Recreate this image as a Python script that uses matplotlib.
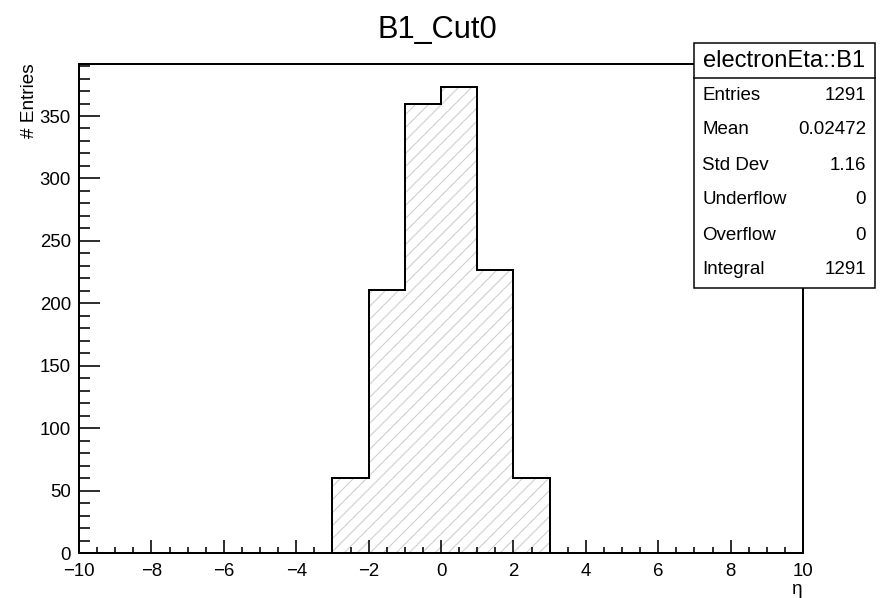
import matplotlib
matplotlib.use("Agg")
import matplotlib.pyplot as plt
from matplotlib.patches import Rectangle
from matplotlib.lines import Line2D
from matplotlib.ticker import MultipleLocator

# Histogram of electron eta, 20 bins of width 1 over [-10, 10]
bin_edges = list(range(-10, 11))
counts = [0, 0, 0, 0, 0, 0, 0,
          60, 211, 360, 373, 227, 60,
          0, 0, 0, 0, 0, 0, 0]

title = "B1_Cut0"
stats_title = "electronEta::B1"
stats_labels = ["Entries", "Mean", "Std Dev", "Underflow", "Overflow", "Integral"]
stats_values = ["1291", "0.02472", "1.16", "0", "0", "1291"]

W, H = 880, 598
DPI = 78
plt.rcParams["font.family"] = ["Liberation Sans", "DejaVu Sans"]
plt.rcParams["hatch.linewidth"] = 1.0

fig = plt.figure(figsize=(W / DPI, H / DPI), dpi=DPI)


def fx(px):
    return px / W


def fy(py):
    return 1 - py / H


def pt(px):
    return px * 72 / DPI


ax_l, ax_r, ax_t, ax_b = 79, 803, 64, 553
ax = fig.add_axes([fx(ax_l), fy(ax_b), fx(ax_r - ax_l), (ax_b - ax_t) / H])

ax.stairs(counts, bin_edges, fill=True, facecolor="none", edgecolor="#cfcfcf",
          hatch="//", linewidth=0, zorder=1)
ax.stairs(counts, bin_edges, fill=False, edgecolor="black", linewidth=pt(2.0),
          zorder=2)

ax.set_xlim(-10, 10)
ax.set_ylim(0, max(counts) * 1.05)

ax.xaxis.set_major_locator(MultipleLocator(2))
ax.xaxis.set_minor_locator(MultipleLocator(0.5))
ax.yaxis.set_major_locator(MultipleLocator(50))
ax.yaxis.set_minor_locator(MultipleLocator(10))

ax.tick_params(axis="both", which="both", direction="in", top=False, right=False,
               width=pt(1.6), colors="black", labelsize=pt(18.6))
ax.tick_params(axis="x", which="major", length=pt(13), pad=pt(10))
ax.tick_params(axis="x", which="minor", length=pt(6.5))
ax.tick_params(axis="y", which="major", length=pt(21), pad=pt(8))
ax.tick_params(axis="y", which="minor", length=pt(11))

for s in ax.spines.values():
    s.set_linewidth(pt(2.0))

# axis titles, ROOT-style aligned to the axis ends
fig.text(fx(803), fy(590), "η", ha="right", va="center", fontsize=pt(19))
fig.text(fx(30), fy(63), "# Entries", ha="center", va="top", rotation=90,
         fontsize=pt(19))

fig.text(fx(437), fy(38), title, ha="center", va="baseline", fontsize=pt(30.8))

# statistics box
bx_l, bx_r, bx_t, bx_b = 694, 875, 43, 288
fig.patches.append(Rectangle((fx(bx_l), fy(bx_b)), fx(bx_r - bx_l), (bx_b - bx_t) / H,
                             transform=fig.transFigure, facecolor="white",
                             edgecolor="black", linewidth=pt(1.5), zorder=5))
fig.lines.append(Line2D([fx(bx_l), fx(bx_r)], [fy(78), fy(78)],
                        transform=fig.transFigure, color="black",
                        linewidth=pt(1.5), zorder=6))
fig.text(fx((bx_l + bx_r) / 2), fy(61), stats_title, ha="center", va="center",
         fontsize=pt(23.8), zorder=7)
row_y = [95, 130, 166, 200, 235, 270]
for lab, val, yy in zip(stats_labels, stats_values, row_y):
    fig.text(fx(702), fy(yy), lab, ha="left", va="center", fontsize=pt(18.8), zorder=7)
    fig.text(fx(866), fy(yy), val, ha="right", va="center", fontsize=pt(18.8), zorder=7)

fig.savefig("out.png", dpi=DPI)
